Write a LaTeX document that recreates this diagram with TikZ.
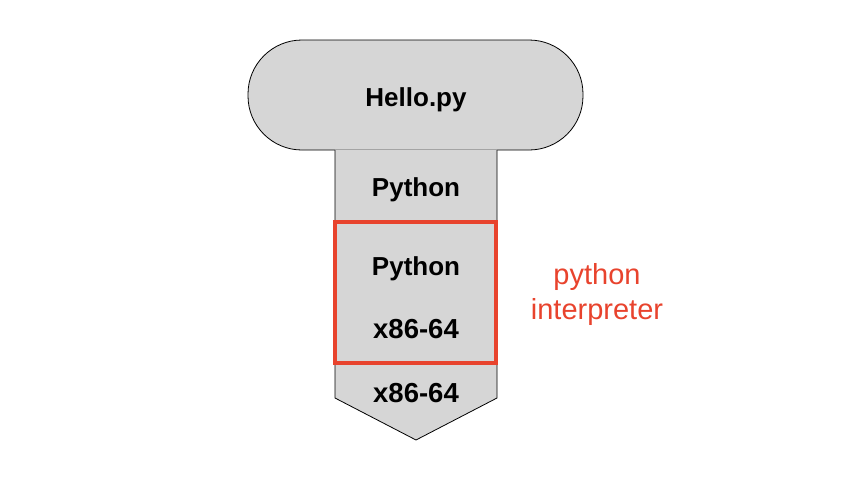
\documentclass[tikz,border=0pt]{standalone}
\usepackage{fontspec}
\setmainfont{Liberation Sans}
\definecolor{shapegray}{HTML}{D6D6D6}
\definecolor{accentred}{HTML}{E8432D}
\tikzset{
  layerlabel/.style={font=\fontsize{26}{30}\selectfont\bfseries, anchor=base, inner sep=0pt},
  numlabel/.style={font=\fontsize{27.5}{30}\selectfont\bfseries, anchor=base, inner sep=0pt},
  redlabel/.style={font=\fontsize{29}{32}\selectfont, text=accentred, anchor=base, inner sep=0pt},
  outline/.style={draw=black, line width=0.8pt},
}
\begin{document}
\begin{tikzpicture}[x=1pt,y=-1pt]
\useasboundingbox (0,0) rectangle (856,477);
% top stadium
\filldraw[fill=shapegray, outline, rounded corners=54pt] (248,40) rectangle (583,150);
% stem
\fill[shapegray] (335,149.6) -- (335,398) -- (416,440) -- (497,398) -- (497,149.6) -- cycle;
\draw[outline, line join=miter] (335,150) -- (335,398) -- (416,440) -- (497,398) -- (497,150);
% red box
\node[draw=accentred, line width=3.2pt, minimum width=161pt, minimum height=141pt, inner sep=0pt] (interp) at (415.5,292.5) {};
% labels
\node[layerlabel] (hello) at (416,106) {Hello.py};
\node[layerlabel] (py1) at (416,196.5) {Python};
\node[layerlabel] (py2) at (416,275.5) {Python};
\node[numlabel] (x1) at (416,338) {x86-64};
\node[numlabel] (x2) at (416,402.5) {x86-64};
\node[redlabel] (rl1) at (597,284) {python};
\node[redlabel] (rl2) at (597,319.5) {interpreter};
\end{tikzpicture}
\end{document}
